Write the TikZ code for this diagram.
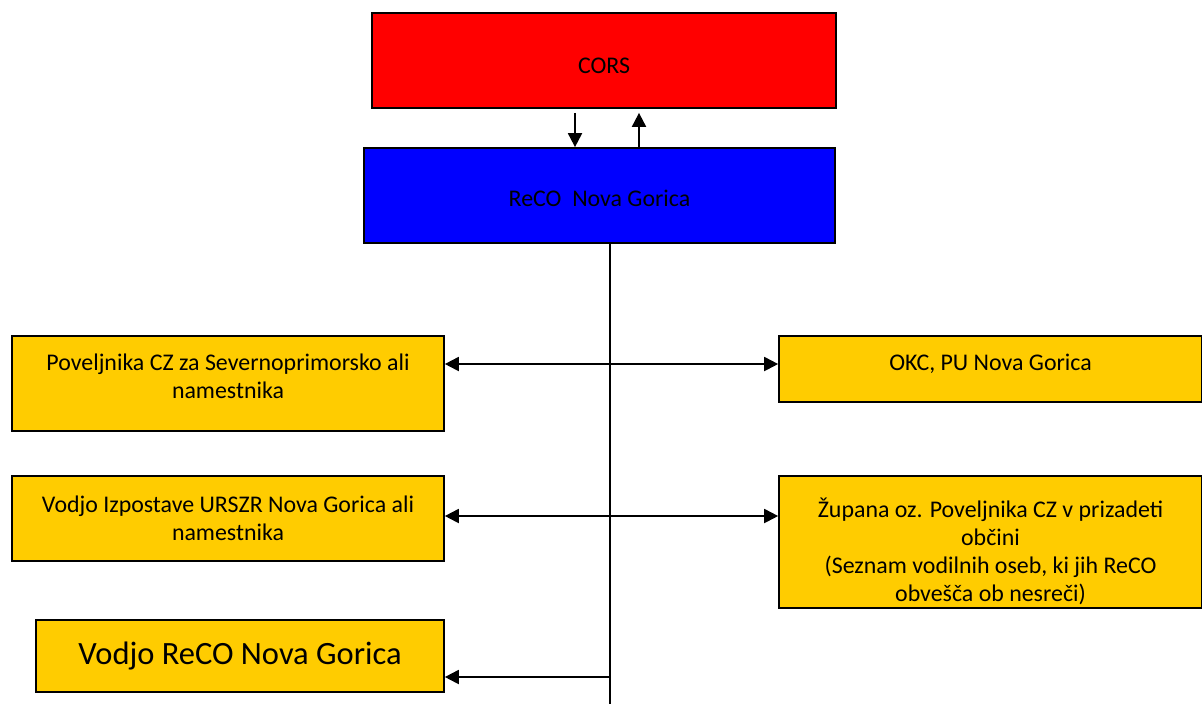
\documentclass[tikz,border=0pt]{standalone}
\usepackage{fontspec}
\setmainfont{Carlito}
\usepackage{tikz}
\usetikzlibrary{arrows.meta}
\definecolor{corsred}{RGB}{255,0,0}
\definecolor{recoblue}{RGB}{0,0,255}
\definecolor{boxyellow}{RGB}{255,204,0}
\tikzset{
	box/.style={draw=black,line width=1pt,inner sep=0pt,align=center,font=\fontsize{13.6}{16}\selectfont},
	ybox/.style={box,fill=boxyellow},
	arr/.style={line width=1.1pt,-{Triangle[length=0.28cm,width=0.28cm]}},
	darr/.style={line width=1.1pt,{Triangle[length=0.28cm,width=0.28cm]}-{Triangle[length=0.28cm,width=0.28cm]}}
}

\begin{document}
\begin{tikzpicture}[x=0.02cm,y=-0.02cm]
\useasboundingbox (0,0) rectangle (1202,704);
\node (cors) [box,fill=corsred,minimum width=9.28cm,minimum height=1.9cm,text height=0.5cm,text depth=0cm] at (604,60.5) {CORS};
\node (reco) [box,fill=recoblue,minimum width=9.42cm,minimum height=1.9cm,text height=0.42cm,text depth=0cm] at (599.5,195.5) {ReCO\ \ Nova Gorica};
\node (pov) [ybox,minimum width=8.64cm,minimum height=1.9cm,text height=0.68cm,text depth=0.08cm] at (228,383.5) {Poveljnika CZ za Severnoprimorsko ali\\namestnika};
\node (okc) [ybox,minimum width=8.46cm,minimum height=1.32cm,text height=0.34cm,text depth=0.3cm] at (990.5,369) {OKC, PU Nova Gorica};
\node (vod) [ybox,minimum width=8.64cm,minimum height=1.7cm] at (228,518.5) {Vodjo Izpostave URSZR Nova Gorica ali\\namestnika};
\node (zup) [ybox,minimum width=8.46cm,minimum height=2.64cm,text height=2.44cm,text depth=0.06cm] at (990.5,542) {Župana oz. Poveljnika CZ v prizadeti\\občini\\(Seznam vodilnih oseb, ki jih ReCO\\obvešča ob nesreči)};
\node (vodja) [ybox,minimum width=8.16cm,minimum height=1.44cm,font=\fontsize{18.5}{22}\selectfont] at (240,656) {Vodjo ReCO Nova Gorica};
\coordinate (bot) at (610,704);
\coordinate (j3) at (610,677);
\draw [arr,shorten <=0.08cm] ([xshift=-0.58cm]cors.south) -- ([xshift=-0.58cm]cors.south |- reco.north);
\draw [arr,shorten >=0.08cm] ([xshift=0.7cm]cors.south |- reco.north) -- ([xshift=0.7cm]cors.south);
\draw [line width=1.1pt] (reco.south -| bot) -- (bot);
\draw [darr] ([yshift=0.1cm]okc.west -| pov.east) -- ([yshift=0.1cm]okc.west);
\draw [darr] ([yshift=0.05cm]vod.east) -- ([yshift=0.05cm]vod.east -| zup.west);
\draw [arr] (j3) -- (j3 -| vodja.east);
\end{tikzpicture}
\end{document}
